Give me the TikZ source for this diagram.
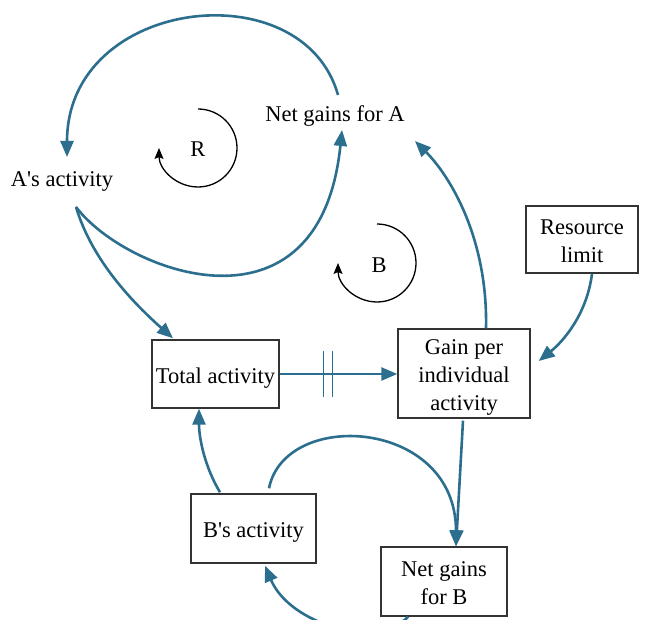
\documentclass[tikz,border=0pt]{standalone}
\usepackage{fontspec}
\setmainfont{Liberation Serif}
\usetikzlibrary{arrows.meta,calc}
\definecolor{linkblue}{HTML}{2B6E8E}
\definecolor{boxgray}{HTML}{333333}
\newcommand\lowtext[1]{\raisebox{-3.5pt}[\height][\depth]{\begin{tabular}{@{}c@{}}#1\end{tabular}}}
\tikzset{
  txt/.style={font=\fontsize{22.5}{28}\selectfont, inner sep=0pt, align=center, text=black},
  varbox/.style={txt, draw=boxgray, line width=1.4pt},
  link/.style={draw=linkblue, line width=2.6pt, -{Triangle[length=16pt,width=13pt]}},
  delaybar/.style={draw=linkblue, line width=1.4pt},
  loopline/.style={draw=black, line width=1.3pt, -{Stealth[length=11pt,width=9pt,inset=2pt]}}
}
\begin{document}
\begin{tikzpicture}[x=1pt,y=1pt]
\useasboundingbox (0,0) rectangle (648,619);
% nodes
\node[txt] (aa) at (62,438) {A\textquotesingle s activity};
\node[txt] (nga) at (335,503) {Net gains for A};
\node[varbox, minimum width=127pt, minimum height=68pt] (tot) at (215.5,245) {\lowtext{Total activity}};
\node[varbox, minimum width=132pt, minimum height=89pt] (gain) at (464,245.5) {\lowtext{Gain per\\individual\\activity}};
\node[varbox, minimum width=112pt, minimum height=67pt] (res) at (582,379.5) {\lowtext{Resource\\limit}};
\node[varbox, minimum width=125pt, minimum height=69pt] (bs) at (253.5,90.5) {\lowtext{B\textquotesingle s activity}};
\node[varbox, minimum width=126pt, minimum height=69pt] (nb) at (444,37.5) {\lowtext{Net gains\\for B}};
% loop markers
\node[txt] (rl) at (198,470) {R};
\node[txt] (bl) at (379,354) {B};
\draw[loopline] ($(rl)+(0,40)$) arc[start angle=90, end angle=-180, radius=39];
\draw[loopline] ($(bl)+(-2,41)$) arc[start angle=90, end angle=-180, radius=39];
% connectors
\draw[link] ($(nga)+(3,21)$) .. controls +(-35,125) and +(0,160) .. ($(aa)+(5,24)$);
\draw[link] ($(aa)+(14,-26)$) .. controls +(50,-66) and +(-22,-215) .. ($(nga)+(7,-14)$);
\draw[link] ($(aa)+(14,-26)$) .. controls +(15,-50) and +(-45,40) .. ($(tot.north)+(-42.5,1)$);
\draw[link] (tot.east) -- (tot.east -| gain.west);
\draw[delaybar] ($(tot.east)+(44,23)$) -- ++(0,-46);
\draw[delaybar] ($(tot.east)+(53,23)$) -- ++(0,-46);
\draw[link] ($(gain.north)+(22,0)$) .. controls +(2,90) and +(35,-35) .. ($(nga)+(80,-25)$);
\draw[link] ($(res.south)+(10,0)$) .. controls +(-5,-40) and +(25,20) .. ($(gain.east)+(8,12.5)$);
\draw[link] ($(gain.south)+(-1,-2)$) -- ($(nb.north)+(12,0)$);
\draw[link] ($(bs.north)+(15.5,5)$) .. controls +(16,80) and +(0,128) .. ($(nb.north)+(12,0)$);
\draw[link] ($(bs.north)+(-33.5,1)$) .. controls +(-15,25) and +(0,-30) .. ($(tot.south)+(-16.5,0)$);
\draw[link] ($(nb.south)+(-36,0)$) .. controls +(-30,-33) and +(25,-59) .. ($(bs.south)+(11.5,-2)$);
\end{tikzpicture}
\end{document}
